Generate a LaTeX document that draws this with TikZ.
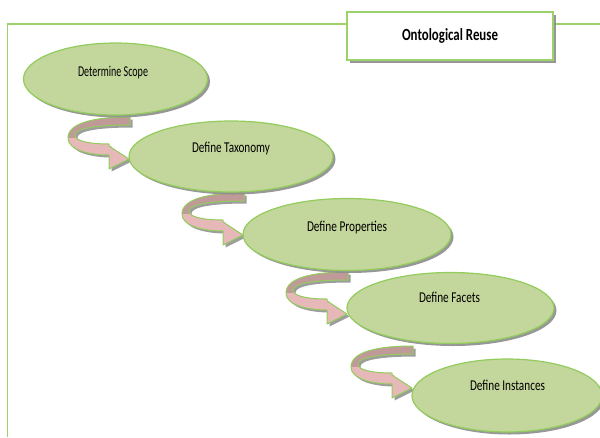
\documentclass[tikz,border=0pt]{standalone}
\usepackage{fontspec}
\setmainfont{Carlito}
\usetikzlibrary{shapes.geometric,shadows,calc}
\definecolor{elfill}{HTML}{C3D69B}
\definecolor{elline}{HTML}{92CC5C}
\definecolor{frameg}{HTML}{9BD36A}
\definecolor{arrpink}{HTML}{E6B9B8}
\definecolor{arrdark}{HTML}{C09A98}
\definecolor{shad}{HTML}{8C8C8C}
\newlength\fitlen
\newcommand\fitw[2]{\settowidth\fitlen{#2}\pgfmathsetmacro\fitfac{#1/\fitlen}\scalebox{\fitfac}[1]{#2}}
\def\uturnpath{(1,-42) .. controls (-35,-42) and (-61,-36) .. (-61,-21) .. controls (-61,-9) and (-40,-4) .. (-20,-4) -- (-20,10) -- (0,0) -- (-20,-13) -- (-20,-15) .. controls (-40,-15) and (-54,-18) .. (-54,-24) .. controls (-54,-31) and (-30,-34) .. (1,-34) -- cycle}
\tikzset{
  stage/.style={ellipse, draw=elline, line width=1.2pt, fill=elfill, inner sep=0pt,
    drop shadow={shadow xshift=2.5pt, shadow yshift=-2.5pt, fill=shad, opacity=0.9}},
  stagetext/.style={font=\fontsize{15}{17}\selectfont, anchor=base, inner sep=0pt},
  titlebox/.style={draw=frameg, line width=1.2pt, fill=white, inner sep=0pt,
    drop shadow={shadow xshift=3pt, shadow yshift=-3pt, fill=shad, opacity=0.9}},
  frameline/.style={draw=frameg, line width=1.3pt},
  uturn/.pic={
    \fill[shad, opacity=0.85, shift={(2.5,2.5)}] \uturnpath;
    \fill[arrpink] \uturnpath;
    \begin{scope}
      \clip (-70,-50) rectangle (5,-22);
      \fill[arrdark] \uturnpath;
    \end{scope}
    \draw[elline, line width=1pt, line join=round] \uturnpath;
  }
}
\begin{document}
\begin{tikzpicture}[x=1pt,y=-1pt]
\useasboundingbox (0,0) rectangle (600,437);
% frame
\coordinate (fb) at (7.5,437);
\coordinate (ft) at (7.5,24);
\coordinate (fr) at (600,24);
\draw[frameline] (fb) -- (ft) -- (fr);
% title
\node[titlebox, minimum width=206pt, minimum height=48pt] (title) at (450,36) {};
\node[font=\fontsize{17}{19}\selectfont\bfseries, anchor=base, inner sep=0pt] (t0) at (450,40) {\fitw{96}{Ontological Reuse}};
% arrows (drawn below the ellipses)
\coordinate (a1) at (129,159);
\coordinate (a2) at (243,235);
\coordinate (a3) at (347,314);
\coordinate (a4) at (412,388);
\pic at (a1) {uturn};
\pic at (a2) {uturn};
\pic at (a3) {uturn};
\pic at (a4) {uturn};
% stages
\node[stage, minimum width=184pt, minimum height=72pt] (s1) at (115.5,79) {};
\node[stage, minimum width=204pt, minimum height=71pt] (s2) at (231,156.5) {};
\node[stage, minimum width=208pt, minimum height=72pt] (s3) at (347,234.5) {};
\node[stage, minimum width=207pt, minimum height=71pt] (s4) at (450.5,308) {};
\node[stage, minimum width=190pt, minimum height=73pt] (s5) at (507,395.5) {};
\node[stagetext] (t1) at (113,76) {\fitw{70}{Determine Scope}};
\node[stagetext] (t2) at (231,152.5) {\fitw{78}{Define Taxonomy}};
\node[stagetext] (t3) at (347,231) {\fitw{80}{Define Properties}};
\node[stagetext] (t4) at (449.5,302.5) {\fitw{61}{Define Facets}};
\node[stagetext] (t5) at (507.5,390) {\fitw{75}{Define Instances}};
\end{tikzpicture}
\end{document}
